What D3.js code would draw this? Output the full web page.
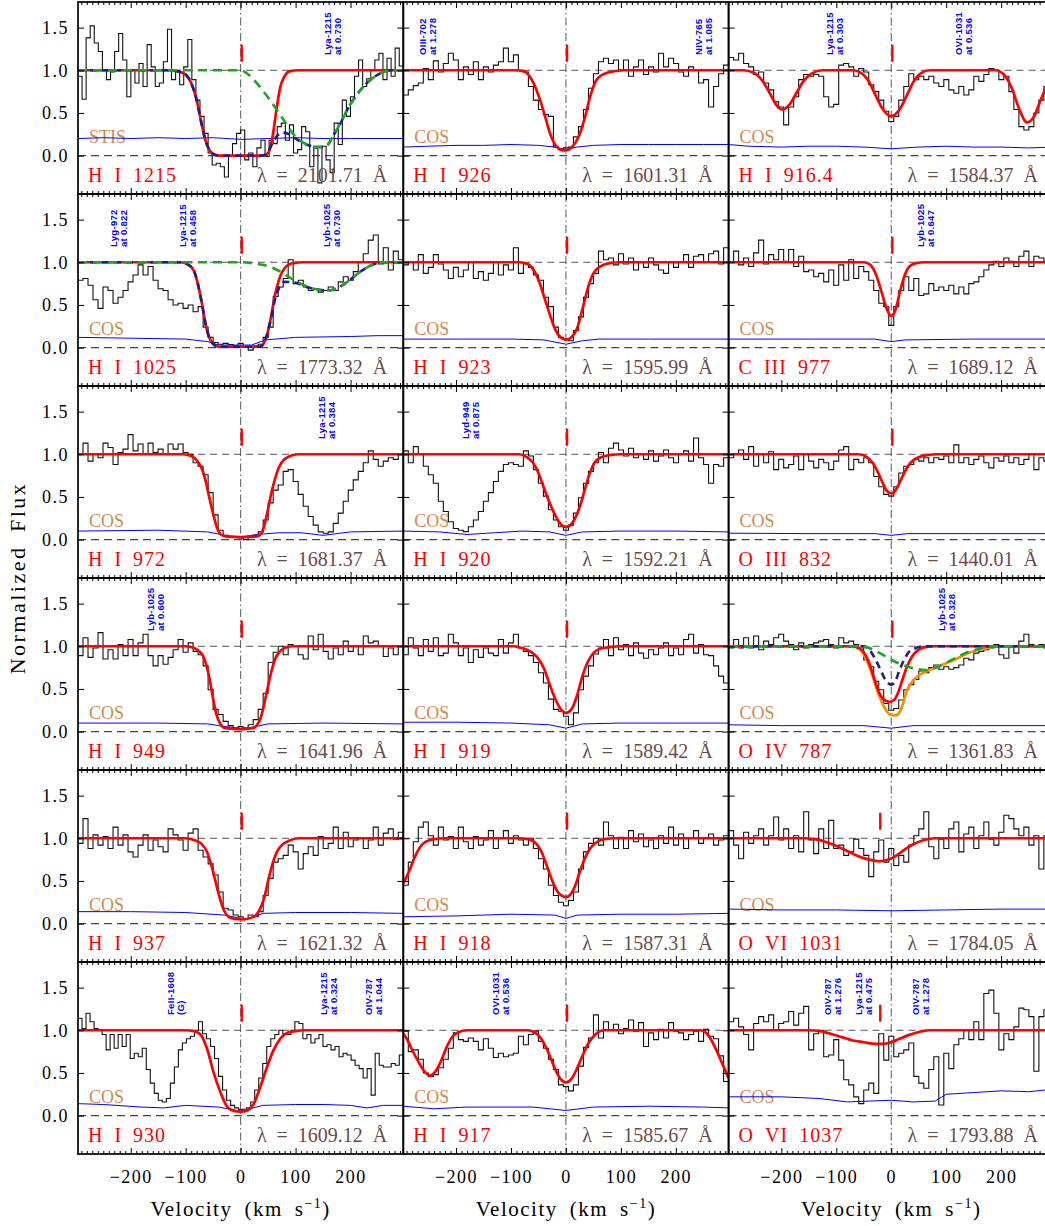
<!DOCTYPE html>
<html>
<head>
<meta charset="utf-8">
<script src="https://cdn.jsdelivr.net/npm/d3@7"></script>
<style>
  body { margin: 0; background: #ffffff; }
  svg { display: block; }
</style>
</head>
<body>
<svg id="chart" width="1045" height="1226"></svg>
<script>
// ---- Panel labels (row-major, 3 columns x 6 rows) ----
const ionNames = ["H I 1215", "H I 926", "H I 916.4",
                  "H I 1025", "H I 923", "C III 977",
                  "H I 972", "H I 920", "O III 832",
                  "H I 949", "H I 919", "O IV 787",
                  "H I 937", "H I 918", "O VI 1031",
                  "H I 930", "H I 917", "O VI 1037"];
const obsLambda = ["2101.71", "1601.31", "1584.37",
                   "1773.32", "1595.99", "1689.12",
                   "1681.37", "1592.21", "1440.01",
                   "1641.96", "1589.42", "1361.83",
                   "1621.32", "1587.31", "1784.05",
                   "1609.12", "1585.67", "1793.88"];
const instruments = ["STIS", "COS", "COS", "COS", "COS", "COS", "COS", "COS", "COS",
                     "COS", "COS", "COS", "COS", "COS", "COS", "COS", "COS", "COS"];
const markerVel = [2, 2, 2, 2, 2, 2, 2, 2, 2, 2, 2, 2, 2, 2, -20, 2, 2, -20];

// ---- Axis ticks ----
const velTicks = [-200, -100, 0, 100, 200];
const velMinorTicks = d3.range(-290, 291, 10).filter(v => v % 100 !== 0);
const fluxTicks = [0, 0.5, 1.0, 1.5];

// ---- Normalized flux, binned evenly across the velocity window ----
const flux_HI1215 = [0.93,0.66,1.38,1.52,1.32,1.22,1.00,0.89,0.98,1.22,
  1.43,1.12,0.69,1.00,0.85,1.08,0.81,1.30,1.04,0.81,
  0.85,1.10,1.48,0.89,1.00,0.83,1.04,1.36,0.89,0.65,
  0.46,0.26,0.03,-0.11,-0.09,-0.13,-0.25,-0.01,0.14,0.26,
  0.30,-0.05,0.03,-0.13,0.09,0.18,-0.01,0.18,0.14,0.34,
  0.38,0.18,0.36,0.03,0.07,0.34,0.28,-0.13,0.09,-0.32,
  0.11,-0.05,-0.20,0.38,0.13,0.65,0.46,0.69,0.93,1.12,
  0.81,0.90,1.00,1.12,1.20,0.89,1.14,0.93,1.26,1.05];
const flux_HI926 = [0.71,0.77,0.82,0.85,1.02,0.89,1.11,0.98,1.08,1.20,
  1.12,0.89,1.04,0.95,1.10,0.89,1.04,0.98,1.06,1.10,
  1.26,1.10,1.18,1.00,0.98,0.81,0.65,0.54,0.48,0.46,
  0.10,0.07,0.09,0.10,0.22,0.34,0.54,0.79,0.96,1.10,
  1.14,1.08,1.12,1.00,1.12,0.93,1.04,1.12,0.95,1.04,
  0.98,1.20,1.04,1.14,1.08,0.98,0.93,1.04,1.00,0.85,
  0.89,0.57,0.81,0.96,1.06];
const flux_HI9164 = [1.15,1.12,1.20,1.08,1.04,0.95,0.98,0.85,0.77,0.63,
  0.57,0.36,0.57,0.69,0.89,0.95,0.93,0.95,0.93,0.69,
  0.57,0.60,1.06,1.08,1.04,0.93,1.02,0.98,0.83,0.75,
  0.65,0.52,0.40,0.46,0.65,0.81,0.96,0.89,0.93,0.89,
  0.93,0.85,0.81,0.89,0.77,0.73,0.81,0.71,0.77,0.93,
  0.87,0.95,1.02,1.00,0.89,0.93,0.75,0.54,0.34,0.30,
  0.34,0.50,0.65,0.81,0.90];
const flux_HI1025 = [0.79,0.81,0.73,0.56,0.46,0.71,0.67,0.52,0.59,0.67,
  0.77,0.85,0.97,0.85,0.95,0.79,0.69,0.67,0.56,0.50,
  0.52,0.46,0.50,0.42,0.48,0.24,0.12,0.06,0.04,0.05,
  0.035,0.02,0.05,0.01,-0.03,0.02,0.04,0.12,0.24,0.60,
  0.71,0.81,1.03,0.75,0.79,0.71,0.67,0.69,0.65,0.67,
  0.71,0.67,0.77,0.83,0.79,0.89,1.00,1.10,1.26,1.32,
  0.98,1.17,0.91,1.13,1.03];
const flux_HI923 = [0.97,1.00,0.91,1.09,0.87,0.94,1.09,0.98,0.91,0.81,
  0.94,0.83,0.91,1.00,0.81,0.89,0.79,0.87,1.00,0.85,
  0.97,0.91,1.17,0.87,0.98,0.94,0.85,0.79,0.59,0.48,
  0.24,0.12,0.10,0.08,0.20,0.36,0.59,0.75,0.87,1.13,
  1.03,1.05,0.97,1.10,0.98,1.05,0.91,1.00,0.94,1.05,
  0.97,0.91,0.87,1.00,0.94,1.00,1.09,0.94,1.07,1.09,
  1.00,1.10,1.13,0.98,1.17];
const flux_CIII977 = [1.00,1.13,0.97,1.05,0.95,1.11,1.26,0.98,1.09,1.03,
  1.15,1.01,1.15,0.95,1.07,0.89,0.91,0.83,0.87,0.77,
  0.91,0.73,0.97,0.79,1.03,0.81,0.95,0.89,0.79,0.67,
  0.52,0.48,0.26,0.48,0.67,0.83,0.67,0.81,0.61,0.63,
  0.75,0.67,0.71,0.67,0.73,0.63,0.71,0.63,0.75,0.77,
  0.83,0.91,0.97,1.01,0.95,1.05,1.01,0.95,1.07,1.13,
  0.95,1.07,1.05,1.01,0.99];
const flux_HI972 = [1.00,1.13,0.92,1.00,0.96,1.13,1.08,0.88,1.02,1.06,
  1.23,1.04,1.12,1.00,1.13,1.02,1.06,1.00,1.12,1.06,
  1.12,1.02,1.00,0.90,0.86,0.76,0.55,0.29,0.11,0.05,
  0.04,0.03,0.02,0.00,0.03,0.05,0.09,0.23,0.43,0.58,
  0.64,0.80,0.82,0.68,0.53,0.39,0.27,0.17,0.09,0.075,
  0.09,0.19,0.31,0.45,0.58,0.70,0.80,0.90,1.04,0.94,
  0.86,0.92,0.96,0.94,1.00];
const flux_HI920 = [1.04,0.90,1.09,1.00,0.86,0.76,0.66,0.45,0.33,0.21,
  0.13,0.11,0.094,0.15,0.23,0.33,0.45,0.55,0.68,0.80,
  0.88,0.90,0.88,0.86,1.04,0.98,0.82,0.66,0.51,0.35,
  0.23,0.15,0.11,0.17,0.31,0.49,0.66,0.80,0.90,1.02,
  0.90,1.07,1.13,1.05,0.98,1.07,0.96,1.00,0.94,1.04,
  0.92,0.98,1.05,0.96,0.90,1.00,1.04,0.92,1.19,0.96,
  0.88,0.66,0.88,0.86,0.96];
const flux_OIII832 = [0.96,1.00,1.05,0.94,1.09,0.86,1.00,0.90,1.03,0.82,
  0.94,0.84,0.88,0.98,0.82,1.00,0.92,0.84,0.94,0.90,
  0.82,0.92,1.05,1.09,0.82,0.94,0.90,0.96,0.90,0.74,
  0.62,0.53,0.51,0.62,0.78,0.86,0.88,0.94,0.92,0.96,
  0.90,0.96,0.94,0.98,0.90,1.11,0.90,0.96,0.88,0.94,
  0.98,0.90,0.84,0.96,0.92,0.98,0.90,0.96,0.88,0.94,
  1.00,0.82,0.96,0.92,0.98];
const flux_HI949 = [0.89,1.10,0.87,0.98,1.16,0.85,0.96,0.85,1.02,0.89,
  1.08,0.89,1.04,1.14,0.89,0.77,0.89,0.79,0.87,0.96,
  1.08,0.93,1.04,0.94,0.90,0.77,0.49,0.26,0.20,0.12,
  0.07,0.04,0.06,0.04,0.08,0.14,0.26,0.45,0.81,0.93,
  1.00,0.90,1.02,1.00,0.90,0.85,1.12,0.96,1.14,0.94,
  0.85,0.98,0.90,1.06,0.94,1.00,0.90,1.12,1.04,1.06,
  1.00,0.88,0.98,0.90,1.00];
const flux_HI919 = [0.90,1.10,0.98,0.89,1.08,0.94,1.10,0.89,0.92,1.14,
  1.04,0.89,0.98,0.81,0.96,0.87,0.98,0.92,0.89,1.08,
  0.92,1.04,1.14,0.98,0.94,0.89,0.81,0.69,0.57,0.38,
  0.26,0.24,0.18,0.08,0.22,0.49,0.65,0.77,0.91,0.98,
  1.08,0.89,1.10,0.96,1.02,0.89,1.04,0.92,0.86,0.96,
  0.90,0.98,1.04,0.89,0.98,0.90,1.08,1.14,0.92,1.02,
  0.90,0.89,0.77,0.65,0.57];
const flux_OIV787 = [0.98,1.08,0.98,1.10,0.98,1.12,0.96,1.06,1.02,1.10,
  1.14,1.06,1.02,0.96,1.04,0.98,1.02,1.04,1.06,1.08,
  1.02,0.98,1.10,1.04,1.06,1.02,0.98,0.84,0.76,0.59,
  0.49,0.33,0.25,0.27,0.37,0.49,0.55,0.61,0.71,0.69,
  0.75,0.78,0.73,0.76,0.73,0.75,0.78,0.86,0.84,0.92,
  0.94,0.96,0.98,1.02,0.90,0.86,1.00,0.92,1.06,1.14,
  1.02,1.00,1.02,0.98,0.96];
const flux_HI937 = [0.94,1.23,0.88,1.04,0.92,1.02,0.88,1.13,0.92,1.04,
  0.84,0.78,0.92,1.04,0.86,0.98,0.90,0.84,1.11,1.04,
  0.98,0.86,1.06,1.11,0.86,0.78,0.70,0.57,0.37,0.18,
  0.16,0.10,0.08,0.06,0.10,0.08,0.14,0.33,0.53,0.72,
  0.76,0.80,0.92,0.84,0.64,0.82,0.90,0.80,1.02,0.88,
  0.94,1.13,0.88,1.07,0.90,0.98,1.00,0.88,0.98,1.13,
  0.92,1.06,1.11,0.99,1.07];
const flux_HI918 = [0.45,0.72,0.96,1.13,1.19,1.03,0.92,1.13,0.98,1.02,
  0.88,1.13,0.96,0.88,1.02,0.92,0.98,1.09,0.88,1.00,
  1.09,0.94,1.03,0.98,0.92,1.00,0.88,0.76,0.64,0.45,
  0.33,0.25,0.21,0.27,0.37,0.64,0.84,0.94,1.00,0.92,
  1.19,1.03,0.88,1.01,0.88,1.09,0.96,1.05,0.90,0.98,
  0.88,1.03,0.94,1.13,0.92,1.05,0.88,1.00,1.09,0.94,
  1.00,1.05,0.92,0.98,1.03];
const flux_OVI1031 = [1.09,0.92,0.76,1.07,0.94,1.03,1.11,0.92,1.03,1.25,
  0.98,1.11,0.88,1.03,0.84,1.31,0.98,0.82,1.11,0.88,
  1.21,0.88,0.92,0.80,0.84,0.99,0.88,0.80,0.55,0.84,
  0.98,0.72,0.88,0.68,0.80,0.72,0.92,1.03,1.11,1.31,
  0.90,0.76,0.99,0.88,1.11,1.19,0.84,1.05,1.13,0.88,
  1.03,1.19,0.99,0.92,1.07,1.27,1.23,1.11,1.03,1.13,
  0.92,1.03,0.64,1.03,1.05];
const flux_HI930 = [1.14,1.02,1.20,1.10,1.02,1.00,0.95,0.77,0.95,0.79,
  0.95,0.81,0.95,0.67,0.73,0.69,0.79,0.54,0.38,0.26,
  0.18,0.16,0.20,0.38,0.57,0.77,0.85,0.90,0.93,1.00,
  1.10,0.96,0.90,0.81,0.67,0.46,0.30,0.18,0.12,0.09,
  0.07,0.075,0.09,0.16,0.30,0.44,0.61,0.81,0.90,0.95,
  1.00,0.96,0.95,1.00,1.10,1.08,0.90,0.95,0.85,0.90,
  0.95,0.81,0.83,0.77,0.81,0.69,0.73,0.71,0.65,0.59,
  0.55,0.44,0.55,0.24,0.73,0.59,0.57,0.57,0.61,0.59,
  0.71];
const flux_HI917 = [0.99,0.75,0.77,0.66,0.50,0.46,0.48,0.56,0.66,0.79,
  0.97,0.89,0.87,0.91,0.87,0.77,0.90,0.79,0.68,0.73,
  0.69,0.71,0.73,0.93,0.83,0.95,0.99,0.87,0.79,0.66,
  0.54,0.36,0.34,0.29,0.36,0.58,0.80,0.91,1.18,0.91,
  1.10,1.00,1.07,0.96,1.02,1.12,0.99,1.09,0.81,0.97,
  0.89,1.01,0.91,1.09,0.99,0.97,0.89,0.95,0.99,0.87,
  1.01,0.93,0.90,0.70,0.40];
const flux_OVI1037 = [1.10,1.14,1.04,0.95,0.77,1.08,1.16,1.10,1.18,1.00,
  1.08,1.10,1.22,1.06,1.20,1.28,0.77,0.96,1.00,0.69,
  0.71,0.89,0.65,0.42,0.36,0.22,0.14,0.30,0.38,0.26,
  0.96,0.65,0.93,0.69,0.73,0.77,0.85,0.46,0.38,0.32,
  0.54,0.69,0.125,0.73,0.55,0.83,0.90,1.00,0.89,1.10,
  0.89,1.43,1.47,1.20,0.77,0.96,0.89,1.04,1.26,1.24,
  1.16,0.52,1.16,1.24,1.10];

// ---- Flux uncertainty, [velocity, sigma] ----
const err_HI1215 = [[-296,0.20],[-250,0.21],[-200,0.20],[-150,0.21],[-100,0.20],[-50,0.21],[0,0.19],[50,0.20],[100,0.21],[150,0.20],[200,0.20],[250,0.20],[296,0.20]];
const err_HI926 = [[-296,0.10],[-250,0.11],[-200,0.12],[-150,0.12],[-100,0.13],[-50,0.12],[-20,0.10],[0,0.07],[20,0.10],[50,0.12],[100,0.13],[150,0.13],[200,0.13],[250,0.13],[296,0.13]];
const err_HI9164 = [[-296,0.13],[-260,0.11],[-200,0.10],[-150,0.11],[-100,0.11],[-50,0.10],[0,0.08],[50,0.10],[100,0.11],[150,0.10],[200,0.10],[250,0.09],[296,0.10]];
const err_HI1025 = [[-296,0.12],[-200,0.11],[-100,0.10],[-60,0.07],[-40,0.03],[20,0.03],[45,0.09],[100,0.12],[200,0.13],[250,0.14],[296,0.14]];
const err_HI923 = [[-296,0.10],[-200,0.10],[-100,0.10],[-40,0.09],[0,0.04],[30,0.08],[60,0.10],[150,0.10],[296,0.10]];
const err_CIII977 = [[-296,0.10],[-150,0.10],[-30,0.10],[0,0.07],[25,0.09],[150,0.10],[296,0.10]];
const err_HI972 = [[-296,0.10],[-150,0.11],[-60,0.09],[-20,0.04],[0,0.03],[30,0.06],[70,0.08],[110,0.08],[150,0.05],[200,0.09],[296,0.10]];
const err_HI920 = [[-296,0.10],[-230,0.09],[-180,0.06],[-130,0.08],[-80,0.10],[-30,0.09],[0,0.05],[30,0.09],[100,0.10],[200,0.10],[296,0.09]];
const err_OIII832 = [[-296,0.075],[-150,0.07],[-30,0.07],[0,0.05],[30,0.07],[150,0.07],[296,0.07]];
const err_HI949 = [[-296,0.10],[-150,0.10],[-60,0.09],[-30,0.06],[0,0.04],[20,0.05],[50,0.09],[150,0.10],[296,0.09]];
const err_HI919 = [[-296,0.11],[-200,0.11],[-100,0.10],[-30,0.08],[0,0.04],[30,0.09],[100,0.10],[200,0.10],[296,0.10]];
const err_OIV787 = [[-296,0.08],[-200,0.07],[-50,0.07],[0,0.04],[40,0.07],[150,0.07],[296,0.07]];
const err_HI937 = [[-296,0.14],[-200,0.14],[-100,0.13],[-30,0.10],[10,0.05],[40,0.12],[100,0.13],[200,0.13],[296,0.12]];
const err_HI918 = [[-296,0.08],[-200,0.09],[-100,0.11],[-20,0.10],[0,0.06],[20,0.10],[100,0.11],[200,0.11],[296,0.12]];
const err_OVI1031 = [[-296,0.17],[-200,0.16],[-100,0.16],[0,0.15],[100,0.16],[200,0.17],[296,0.17]];
const err_HI930 = [[-296,0.14],[-250,0.13],[-180,0.10],[-140,0.09],[-100,0.12],[-40,0.10],[0,0.05],[40,0.12],[100,0.13],[150,0.13],[200,0.12],[230,0.09],[260,0.12],[296,0.12]];
const err_HI917 = [[-296,0.11],[-240,0.08],[-180,0.10],[-60,0.10],[0,0.06],[50,0.10],[150,0.11],[250,0.10],[296,0.09]];
const err_OVI1037 = [[-296,0.22],[-200,0.22],[-130,0.20],[-80,0.16],[-40,0.17],[0,0.18],[40,0.16],[80,0.17],[100,0.25],[150,0.27],[200,0.29],[250,0.28],[296,0.31]];

// ---- Fitted profiles, [velocity, flux] ----
const fit_HI1215 = [[-296,1],[-130,1],[-110,0.98],[-100,0.95],[-90,0.85],[-80,0.65],[-72,0.4],[-65,0.2],[-58,0.08],[-50,0.02],[-40,0.0],[40,0.0],[50,0.03],[57,0.18],[65,0.53],[72,0.8],[80,0.93],[90,0.99],[105,1],[296,1]];
const total_HI1215 = [[-296,1],[-130,1],[-110,0.98],[-100,0.95],[-90,0.85],[-80,0.65],[-72,0.4],[-65,0.2],[-58,0.08],[-50,0.02],[-40,0.0],[38,0.0],[48,0.03],[56,0.12],[65,0.22],[75,0.27],[85,0.26],[100,0.2],[120,0.13],[140,0.1],[155,0.11],[170,0.25],[185,0.42],[195,0.55],[210,0.7],[225,0.82],[245,0.93],[265,0.99],[280,1],[296,1]];
const blend_HI1215 = [[-296,1],[0,1],[10,0.97],[25,0.88],[50,0.68],[75,0.45],[100,0.22],[120,0.13],[140,0.1],[155,0.11],[170,0.25],[185,0.42],[195,0.55],[210,0.7],[225,0.82],[245,0.93],[265,0.99],[280,1],[296,1]];
const fit_HI926 = [[-296,1],[-95,1],[-77,0.99],[-59,0.85],[-47,0.65],[-38,0.46],[-29,0.26],[-19,0.12],[-10,0.07],[0,0.06],[11,0.1],[23,0.22],[35,0.46],[44,0.69],[56,0.89],[75,0.97],[105,1],[296,1]];
const fit_HI9164 = [[-296,1],[-270,1],[-250,0.97],[-235,0.88],[-220,0.72],[-210,0.6],[-198,0.54],[-185,0.6],[-172,0.74],[-160,0.87],[-145,0.96],[-125,1],[-70,1],[-55,0.97],[-40,0.86],[-28,0.7],[-15,0.54],[0,0.46],[15,0.54],[28,0.7],[40,0.86],[55,0.97],[70,1],[190,1],[205,0.95],[220,0.78],[232,0.56],[247,0.39],[260,0.46],[270,0.62],[280,0.77],[296,0.92]];
const fit_HI1025 = [[-296,1],[-110,1],[-95,0.97],[-85,0.9],[-78,0.75],[-70,0.5],[-63,0.25],[-56,0.1],[-48,0.03],[-40,0.01],[35,0.01],[42,0.05],[48,0.15],[55,0.35],[62,0.6],[70,0.8],[80,0.93],[95,0.99],[115,1],[296,1]];
const total_HI1025 = [[-296,1],[-110,1],[-95,0.97],[-85,0.9],[-78,0.75],[-70,0.5],[-63,0.25],[-56,0.1],[-48,0.03],[-40,0.01],[35,0.01],[42,0.05],[48,0.15],[55,0.33],[62,0.55],[70,0.7],[80,0.77],[100,0.76],[120,0.71],[140,0.68],[160,0.67],[180,0.71],[200,0.8],[220,0.9],[240,0.97],[260,1],[296,1]];
const blend_HI1025 = [[-296,1],[0,1],[20,0.99],[40,0.97],[60,0.93],[80,0.86],[100,0.78],[120,0.72],[140,0.68],[160,0.67],[180,0.71],[200,0.8],[220,0.9],[240,0.97],[260,1],[296,1]];
const fit_HI923 = [[-296,1],[-85,1],[-70,0.98],[-58,0.9],[-48,0.76],[-40,0.6],[-30,0.4],[-20,0.22],[-10,0.12],[0,0.09],[10,0.12],[20,0.22],[30,0.45],[40,0.7],[50,0.87],[62,0.95],[80,0.99],[100,1],[296,1]];
const fit_CIII977 = [[-296,1],[-50,1],[-38,0.97],[-28,0.86],[-18,0.66],[-8,0.45],[0,0.37],[8,0.45],[16,0.66],[24,0.84],[33,0.95],[45,0.99],[60,1],[296,1]];
const fit_HI972 = [[-296,1],[-105,1],[-90,0.98],[-80,0.93],[-72,0.85],[-65,0.72],[-58,0.52],[-50,0.3],[-43,0.14],[-36,0.06],[-25,0.035],[0,0.03],[28,0.035],[36,0.06],[42,0.14],[48,0.3],[55,0.52],[62,0.7],[70,0.85],[78,0.93],[90,0.98],[105,1],[296,1]];
const fit_HI920 = [[-296,1],[-85,1],[-72,0.97],[-60,0.9],[-50,0.78],[-42,0.64],[-34,0.5],[-25,0.36],[-15,0.23],[-6,0.16],[0,0.15],[6,0.16],[15,0.23],[25,0.38],[34,0.58],[43,0.77],[52,0.9],[62,0.96],[80,0.99],[100,1],[296,1]];
const fit_OIII832 = [[-296,1],[-60,1],[-45,0.97],[-34,0.9],[-25,0.8],[-16,0.67],[-8,0.57],[0,0.54],[8,0.58],[16,0.68],[25,0.8],[35,0.9],[48,0.96],[65,0.99],[85,1],[296,1]];
const fit_HI949 = [[-296,1],[-100,1],[-85,0.98],[-75,0.94],[-68,0.88],[-62,0.77],[-56,0.6],[-50,0.38],[-44,0.2],[-37,0.09],[-28,0.04],[0,0.03],[22,0.04],[30,0.08],[36,0.15],[42,0.3],[48,0.48],[55,0.68],[62,0.84],[70,0.93],[80,0.98],[95,1],[296,1]];
const fit_HI919 = [[-296,1],[-95,1],[-80,0.98],[-65,0.94],[-52,0.87],[-40,0.74],[-30,0.56],[-20,0.39],[-10,0.27],[0,0.22],[10,0.26],[20,0.42],[30,0.65],[40,0.82],[50,0.92],[62,0.97],[80,0.99],[100,1],[296,1]];
const fit_OIV787 = [[-296,1],[-70,1],[-60,0.98],[-50,0.93],[-40,0.8],[-30,0.6],[-20,0.43],[-10,0.36],[-3,0.35],[5,0.37],[12,0.45],[20,0.6],[28,0.75],[38,0.88],[50,0.96],[62,0.99],[80,1],[296,1]];
const total_OIV787 = [[-296,1],[-70,1],[-60,0.98],[-50,0.9],[-38,0.73],[-26,0.49],[-13,0.29],[-2,0.2],[8,0.19],[17,0.25],[29,0.49],[41,0.61],[53,0.67],[65,0.71],[84,0.76],[114,0.84],[144,0.93],[175,0.98],[200,1],[296,1]];
const comp_OIV787 = [[-296,1],[-50,1],[-40,0.96],[-30,0.86],[-20,0.73],[-10,0.6],[0,0.55],[8,0.6],[15,0.72],[24,0.85],[33,0.94],[45,0.98],[60,1],[296,1]];
const blend_OIV787 = [[-296,1],[-60,1],[-45,0.99],[-30,0.95],[-10,0.88],[10,0.81],[30,0.76],[50,0.73],[65,0.72],[85,0.76],[110,0.84],[135,0.92],[160,0.97],[180,1],[296,1]];
const fit_HI937 = [[-296,1],[-100,1],[-85,0.98],[-72,0.94],[-62,0.85],[-54,0.7],[-46,0.5],[-38,0.3],[-30,0.15],[-22,0.08],[-10,0.055],[5,0.05],[20,0.07],[28,0.1],[35,0.17],[42,0.28],[50,0.5],[58,0.7],[66,0.84],[75,0.92],[88,0.97],[105,1],[296,1]];
const fit_HI918 = [[-296,0.47],[-285,0.62],[-275,0.78],[-265,0.9],[-255,0.96],[-240,0.99],[-220,1],[-85,1],[-70,0.99],[-58,0.96],[-46,0.86],[-36,0.7],[-26,0.52],[-16,0.38],[-6,0.32],[0,0.31],[8,0.34],[16,0.43],[25,0.6],[34,0.76],[44,0.88],[55,0.95],[70,0.99],[90,1],[296,1]];
const fit_OVI1031 = [[-296,1],[-160,1],[-140,0.99],[-120,0.96],[-100,0.91],[-80,0.85],[-60,0.79],[-40,0.75],[-22,0.73],[-5,0.75],[10,0.8],[25,0.87],[40,0.93],[60,0.98],[80,1],[296,1]];
const fit_HI930 = [[-296,1],[-100,1],[-85,0.99],[-73,0.95],[-61,0.78],[-49,0.5],[-36,0.26],[-24,0.1],[-12,0.055],[0,0.047],[12,0.06],[24,0.14],[36,0.34],[48,0.57],[60,0.77],[72,0.9],[85,0.97],[100,0.99],[115,1],[296,1]];
const fit_HI917 = [[-296,0.96],[-288,0.88],[-280,0.77],[-270,0.65],[-260,0.54],[-248,0.47],[-236,0.53],[-226,0.66],[-216,0.82],[-206,0.93],[-195,0.98],[-180,1],[-70,1],[-58,0.98],[-45,0.9],[-32,0.74],[-20,0.55],[-10,0.43],[0,0.39],[10,0.43],[20,0.55],[30,0.7],[42,0.86],[55,0.96],[70,1],[245,1],[255,0.97],[265,0.88],[275,0.75],[285,0.6],[296,0.44]];
const fit_OVI1037 = [[-296,1],[-150,1],[-130,0.99],[-110,0.96],[-90,0.92],[-70,0.88],[-50,0.86],[-30,0.84],[-15,0.84],[0,0.86],[15,0.9],[30,0.94],[50,0.98],[70,1],[296,1]];

// ---- Line identifications: [velocity, line 1, line 2] ----
const notes_HI1215 = [[166, "Lya-1215", "at 0.730"]];
const notes_HI926 = [[-253, "OIII-702", "at 1.278"], [250, "NIV-765", "at 1.085"]];
const notes_HI9164 = [[-105, "Lya-1215", "at 0.303"], [130, "OVI-1031", "at 0.536"]];
const notes_HI1025 = [[-224, "Lyg-972", "at 0.822"], [-98, "Lya-1215", "at 0.458"], [164, "Lyb-1025", "at 0.730"]];
const notes_CIII977 = [[62, "Lyb-1025", "at 0.647"]];
const notes_HI972 = [[155, "Lya-1215", "at 0.384"]];
const notes_HI920 = [[-175, "Lyd-949", "at 0.875"]];
const notes_HI949 = [[-156, "Lyb-1025", "at 0.600"]];
const notes_OIV787 = [[99, "Lyb-1025", "at 0.328"]];
const notes_HI930 = [[-120, "FeII-1608", "(G)"], [159, "Lya-1215", "at 0.324"], [241, "OIV-787", "at 1.044"]];
const notes_HI917 = [[-120, "OVI-1031", "at 0.536"]];
const notes_OVI1037 = [[-107, "OIV-787", "at 1.276"], [-51, "Lya-1215", "at 0.475"], [53, "OIV-787", "at 1.278"]];

// ---- Per-panel lookup tables ----
const fluxSeries = [flux_HI1215, flux_HI926, flux_HI9164, flux_HI1025, flux_HI923, flux_CIII977,
  flux_HI972, flux_HI920, flux_OIII832, flux_HI949, flux_HI919, flux_OIV787,
  flux_HI937, flux_HI918, flux_OVI1031, flux_HI930, flux_HI917, flux_OVI1037];
const errSeries = [err_HI1215, err_HI926, err_HI9164, err_HI1025, err_HI923, err_CIII977,
  err_HI972, err_HI920, err_OIII832, err_HI949, err_HI919, err_OIV787,
  err_HI937, err_HI918, err_OVI1031, err_HI930, err_HI917, err_OVI1037];
const profileSets = [
  [[fit_HI1215, "fit"], [total_HI1215, "navy"], [blend_HI1215, "green"]],
  [[fit_HI926, "fit"]],
  [[fit_HI9164, "fit"]],
  [[fit_HI1025, "fit"], [total_HI1025, "navy"], [blend_HI1025, "green"]],
  [[fit_HI923, "fit"]],
  [[fit_CIII977, "fit"]],
  [[fit_HI972, "fit"]],
  [[fit_HI920, "fit"]],
  [[fit_OIII832, "fit"]],
  [[fit_HI949, "fit"]],
  [[fit_HI919, "fit"]],
  [[total_OIV787, "orange"], [fit_OIV787, "fit"], [comp_OIV787, "navy"], [blend_OIV787, "green"]],
  [[fit_HI937, "fit"]],
  [[fit_HI918, "fit"]],
  [[fit_OVI1031, "fit"]],
  [[fit_HI930, "fit"]],
  [[fit_HI917, "fit"]],
  [[fit_OVI1037, "fit"]]
];
const noteSets = [notes_HI1215, notes_HI926, notes_HI9164, notes_HI1025, [], notes_CIII977,
  notes_HI972, notes_HI920, [], notes_HI949, [], notes_OIV787,
  [], [], [], notes_HI930, notes_HI917, notes_OVI1037];

// ---- Layout and styles ----
const LEFT = 78, TOP = 2, COL_W = 325.3, ROW_H = 192;
const vDomain = [-296, 296];
const fDomain = [-0.45, 1.8];
const SERIF = "'Liberation Serif','Times New Roman',serif";
const SANS = "'Liberation Sans',Arial,sans-serif";
const profileStyle = {
  fit:    { color: "#ff0000", width: 2.7, dash: null },
  orange: { color: "#ff8c00", width: 2.7, dash: null },
  navy:   { color: "#1c1c96", width: 2.6, dash: "7,5" },
  green:  { color: "#1fa51f", width: 2.6, dash: "9,6" }
};

const svg = d3.select("#chart");
const defs = svg.append("defs");

function styleAxis(g) {
  g.select(".domain").remove();
  g.selectAll(".tick line").attr("stroke", "#000").attr("stroke-width", 1);
  g.attr("font-family", SERIF).attr("font-size", 18);
  g.selectAll(".tick text").attr("fill", "#000").style("letter-spacing", "1.5px");
  return g;
}

ionNames.forEach((ion, i) => {
  const row = Math.floor(i / 3), col = i % 3;
  const x0 = LEFT + col * COL_W, y0 = TOP + row * ROW_H;
  const x = d3.scaleLinear().domain(vDomain).range([x0, x0 + COL_W]);
  const y = d3.scaleLinear().domain(fDomain).range([y0 + ROW_H, y0]);

  defs.append("clipPath").attr("id", "panel-clip-" + i)
    .append("rect").attr("x", x0).attr("y", y0).attr("width", COL_W).attr("height", ROW_H);
  const g = svg.append("g").attr("clip-path", `url(#panel-clip-${i})`);

  // continuum and zero levels
  g.append("line").attr("x1", x0).attr("x2", x0 + COL_W).attr("y1", y(1)).attr("y2", y(1))
    .attr("stroke", "#555").attr("stroke-width", 1).attr("stroke-dasharray", "7,5");
  g.append("line").attr("x1", x0).attr("x2", x0 + COL_W).attr("y1", y(0)).attr("y2", y(0))
    .attr("stroke", "#444").attr("stroke-width", 1.4).attr("stroke-dasharray", "8,5");
  // systemic velocity
  g.append("line").attr("x1", x(0)).attr("x2", x(0)).attr("y1", y0).attr("y2", y0 + ROW_H)
    .attr("stroke", "#444").attr("stroke-width", 0.9).attr("stroke-dasharray", "8,3,1.5,3");

  // instrument tag
  g.append("text").attr("x", x0 + 11).attr("y", y0 + 141)
    .attr("font-family", SERIF).attr("font-size", 18).attr("fill", "#d08b4f")
    .text(instruments[i]);

  // binned flux as a histogram
  const fl = fluxSeries[i], n = fl.length, w = (vDomain[1] - vDomain[0]) / n;
  const steps = fl.map((f, k) => [vDomain[0] + k * w, f]).concat([[vDomain[1], fl[n - 1]]]);
  g.append("path")
    .attr("d", d3.line().x(d => x(d[0])).y(d => y(d[1])).curve(d3.curveStepAfter)(steps))
    .attr("fill", "none").attr("stroke", "#111").attr("stroke-width", 1.1);

  // uncertainty
  g.append("path")
    .attr("d", d3.line().x(d => x(d[0])).y(d => y(d[1]))(errSeries[i]))
    .attr("fill", "none").attr("stroke", "#0000ff").attr("stroke-width", 1);

  // fitted profiles
  profileSets[i].forEach(([pts, kind]) => {
    const s = profileStyle[kind];
    const p = g.append("path")
      .attr("d", d3.line().x(d => x(d[0])).y(d => y(d[1])).curve(d3.curveMonotoneX)(pts))
      .attr("fill", "none").attr("stroke", s.color).attr("stroke-width", s.width)
      .attr("stroke-linejoin", "round");
    if (s.dash) p.attr("stroke-dasharray", s.dash);
  });

  // component marker
  g.append("line").attr("x1", x(markerVel[i])).attr("x2", x(markerVel[i]))
    .attr("y1", y(1.1)).attr("y2", y(1.3))
    .attr("stroke", "#ff0000").attr("stroke-width", 2.4);

  // line identifications
  noteSets[i].forEach(([v, a, b]) => {
    const t = g.append("text")
      .attr("transform", `translate(${x(v)},${y0 + 53}) rotate(-90)`)
      .attr("font-family", SANS).attr("font-size", 9.5).attr("font-weight", "bold")
      .attr("fill", "#0000ff").style("letter-spacing", "0.3px");
    t.append("tspan").attr("x", 0).attr("y", -1).text(a);
    t.append("tspan").attr("x", 0).attr("y", 9).text(b);
  });

  // transition and observed wavelength
  g.append("text").attr("x", x0 + 10).attr("y", y0 + 180)
    .attr("font-family", SERIF).attr("font-size", 20).attr("fill", "#ff0000")
    .style("letter-spacing", "1px")
    .text(ion.split(" ").join("\u2002"));
  g.append("text").attr("x", x0 + COL_W - 16).attr("y", y0 + 180)
    .attr("text-anchor", "end")
    .attr("font-family", SERIF).attr("font-size", 20).attr("fill", "#6e4a4a")
    .text("\u03bb\u2002=\u2002" + obsLambda[i] + "\u2002\u00c5");

  // ticks
  styleAxis(svg.append("g").attr("transform", `translate(0,${y0})`)
    .call(d3.axisTop(x).tickValues(velTicks).tickSize(-6).tickFormat("")));
  styleAxis(svg.append("g").attr("transform", `translate(0,${y0})`)
    .call(d3.axisTop(x).tickValues(velMinorTicks).tickSize(-3).tickFormat("")));
  const bottomMajor = d3.axisBottom(x).tickValues(velTicks).tickSize(-6);
  if (row === 5) bottomMajor.tickPadding(16); else bottomMajor.tickFormat("");
  styleAxis(svg.append("g").attr("transform", `translate(0,${y0 + ROW_H})`).call(bottomMajor));
  styleAxis(svg.append("g").attr("transform", `translate(0,${y0 + ROW_H})`)
    .call(d3.axisBottom(x).tickValues(velMinorTicks).tickSize(-3).tickFormat("")));
  const leftAxis = d3.axisLeft(y).tickValues(fluxTicks).tickSize(-6).tickPadding(9);
  if (col === 0) leftAxis.tickFormat(d3.format(".1f")); else leftAxis.tickFormat("");
  styleAxis(svg.append("g").attr("transform", `translate(${x0},0)`).call(leftAxis));
  styleAxis(svg.append("g").attr("transform", `translate(${x0 + COL_W},0)`)
    .call(d3.axisRight(y).tickValues(fluxTicks).tickSize(-6).tickFormat("")));

  // frame
  svg.append("rect").attr("x", x0).attr("y", y0).attr("width", COL_W).attr("height", ROW_H)
    .attr("fill", "none").attr("stroke", "#000").attr("stroke-width", 1.7);
});

// axis titles
svg.append("text")
  .attr("transform", `translate(25,${TOP + 3 * ROW_H}) rotate(-90)`)
  .attr("text-anchor", "middle").attr("font-family", SERIF).attr("font-size", 22)
  .attr("fill", "#000").style("letter-spacing", "2.5px")
  .text("Normalized\u2002Flux");

[0, 1, 2].forEach(col => {
  const t = svg.append("text")
    .attr("x", LEFT + col * COL_W + COL_W / 2).attr("y", 1216)
    .attr("text-anchor", "middle").attr("font-family", SERIF).attr("font-size", 21)
    .attr("fill", "#000").style("letter-spacing", "1.5px");
  t.append("tspan").text("Velocity\u2002(km\u2002s");
  t.append("tspan").attr("dy", -8).attr("font-size", 14).text("\u22121");
  t.append("tspan").attr("dy", 8).text(")");
});
</script>
</body>
</html>
